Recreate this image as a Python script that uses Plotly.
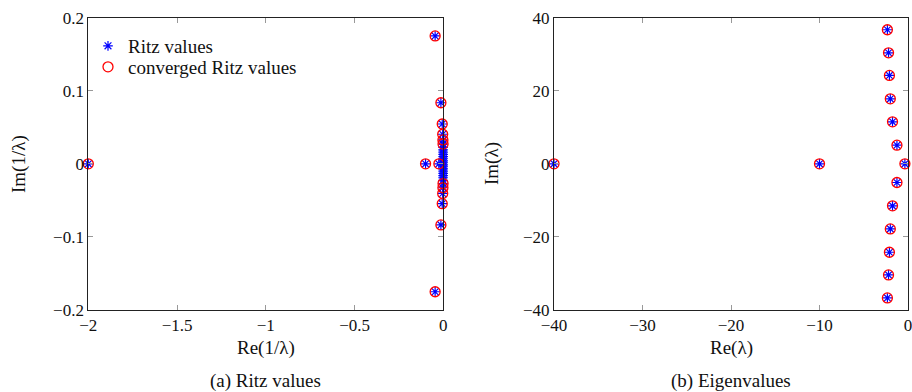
import plotly.graph_objects as go

# ---------- data ----------
# (a) converged Ritz values, 1/lambda
conv_re = [-2.0, -0.1, -0.025,
           -0.046, -0.046, -0.0135, -0.0135, -0.006, -0.006,
           -0.0035, -0.0035, -0.0022, -0.0022, -0.0015, -0.0015]
conv_im = [0.0, 0.0, 0.0,
           0.175, -0.175, 0.0836, -0.0836, 0.0545, -0.0545,
           0.0405, -0.0405, 0.0327, -0.0327, 0.027, -0.027]
# (a) remaining (unconverged) Ritz values clustered near the origin
clus_re = [-0.0012, -0.0012, -0.0011, -0.0011, -0.0010, -0.0010, -0.0009, -0.0009,
           -0.0008, -0.0008, -0.0007, -0.0007, -0.0006, -0.0006, -0.0005, -0.0005]
clus_im = [0.0225, -0.0225, 0.019, -0.019, 0.016, -0.016, 0.013, -0.013,
           0.010, -0.010, 0.007, -0.007, 0.004, -0.004, 0.0015, -0.0015]
ritz_re = conv_re + clus_re
ritz_im = conv_im + clus_im

# (b) eigenvalues lambda
eig_re = [-40.0, -10.0, -0.35,
          -1.25, -1.25, -1.75, -1.75, -2.0, -2.0,
          -2.1, -2.1, -2.2, -2.2, -2.33, -2.33]
eig_im = [0.0, 0.0, 0.0,
          5.1, -5.1, 11.5, -11.5, 17.8, -17.8,
          24.2, -24.2, 30.4, -30.4, 36.7, -36.7]

FONT = "Liberation Serif"
BLUE = "#0000ff"
RED = "#ff0000"

fig = go.Figure()

star = dict(symbol="asterisk-open", size=8, color=BLUE, line=dict(color=BLUE, width=1.2))
circ = dict(symbol="circle-open", size=10, color=RED, line=dict(color=RED, width=1.3))

fig.add_trace(go.Scatter(x=ritz_re, y=ritz_im, mode="markers", marker=star,
                         name="Ritz values", xaxis="x", yaxis="y", cliponaxis=False,
                         legend="legend"))
fig.add_trace(go.Scatter(x=conv_re, y=conv_im, mode="markers", marker=circ,
                         name="converged Ritz values", xaxis="x", yaxis="y", cliponaxis=False,
                         legend="legend2"))
fig.add_trace(go.Scatter(x=eig_re, y=eig_im, mode="markers", marker=star,
                         showlegend=False, xaxis="x2", yaxis="y2", cliponaxis=False))
fig.add_trace(go.Scatter(x=eig_re, y=eig_im, mode="markers", marker=circ,
                         showlegend=False, xaxis="x2", yaxis="y2", cliponaxis=False))

ax = dict(showgrid=False, zeroline=False, showline=True, linecolor="#222", linewidth=1,
          mirror="ticks", ticks="inside", ticklen=5, tickcolor="#999", tickwidth=1,
          automargin=False, ticklabeloverflow="allow",
          tickfont=dict(family=FONT, size=17, color="#111"))

leg = dict(xanchor="left", yanchor="top", bgcolor="rgba(0,0,0,0)", borderwidth=0,
           font=dict(family=FONT, size=19, color="#111"), itemwidth=30, tracegroupgap=0)

ydom = [1 - 310 / 392, 1 - 17.7 / 392]
fig.update_layout(
    width=912, height=392,
    margin=dict(l=0, r=0, t=0, b=0, autoexpand=False),
    paper_bgcolor="white", plot_bgcolor="white",
    font=dict(family=FONT, color="#111"),
    xaxis=dict(ax, domain=[88.3 / 912, 443.3 / 912], range=[-2, 0], dtick=0.5, anchor="y"),
    yaxis=dict(ax, domain=ydom, range=[-0.2, 0.2], dtick=0.1, anchor="x"),
    xaxis2=dict(ax, domain=[554 / 912, 908 / 912], range=[-40, 0], dtick=10, anchor="y2"),
    yaxis2=dict(ax, domain=ydom, range=[-40, 40], dtick=20, anchor="x2"),
    legend=dict(leg, x=88 / 912, y=1 - 27 / 392),
    legend2=dict(leg, x=88 / 912, y=1 - 48 / 392),
    showlegend=True,
)

ann = [
    dict(text="Re(1/λ)", x=(88.3 + 443.3) / 2 / 912, y=1 - 348 / 392),
    dict(text="Re(λ)", x=(554 + 908) / 2 / 912, y=1 - 348 / 392),
    dict(text="(a) Ritz values", x=(88.3 + 443.3) / 2 / 912, y=1 - 381 / 392),
    dict(text="(b) Eigenvalues", x=(554 + 908) / 2 / 912, y=1 - 381 / 392),
    dict(text="Im(1/λ)", x=19 / 912, y=1 - 164 / 392, textangle=-90),
    dict(text="Im(λ)", x=492 / 912, y=1 - 164 / 392, textangle=-90),
]
for a in ann:
    fig.add_annotation(xref="paper", yref="paper", showarrow=False,
                       xanchor="center", yanchor="middle",
                       font=dict(family=FONT, size=19, color="#111"), **a)

fig.write_html("out.html", config={"displayModeBar": False},
               post_script="document.body.style.margin='0';document.body.style.padding='0';")
